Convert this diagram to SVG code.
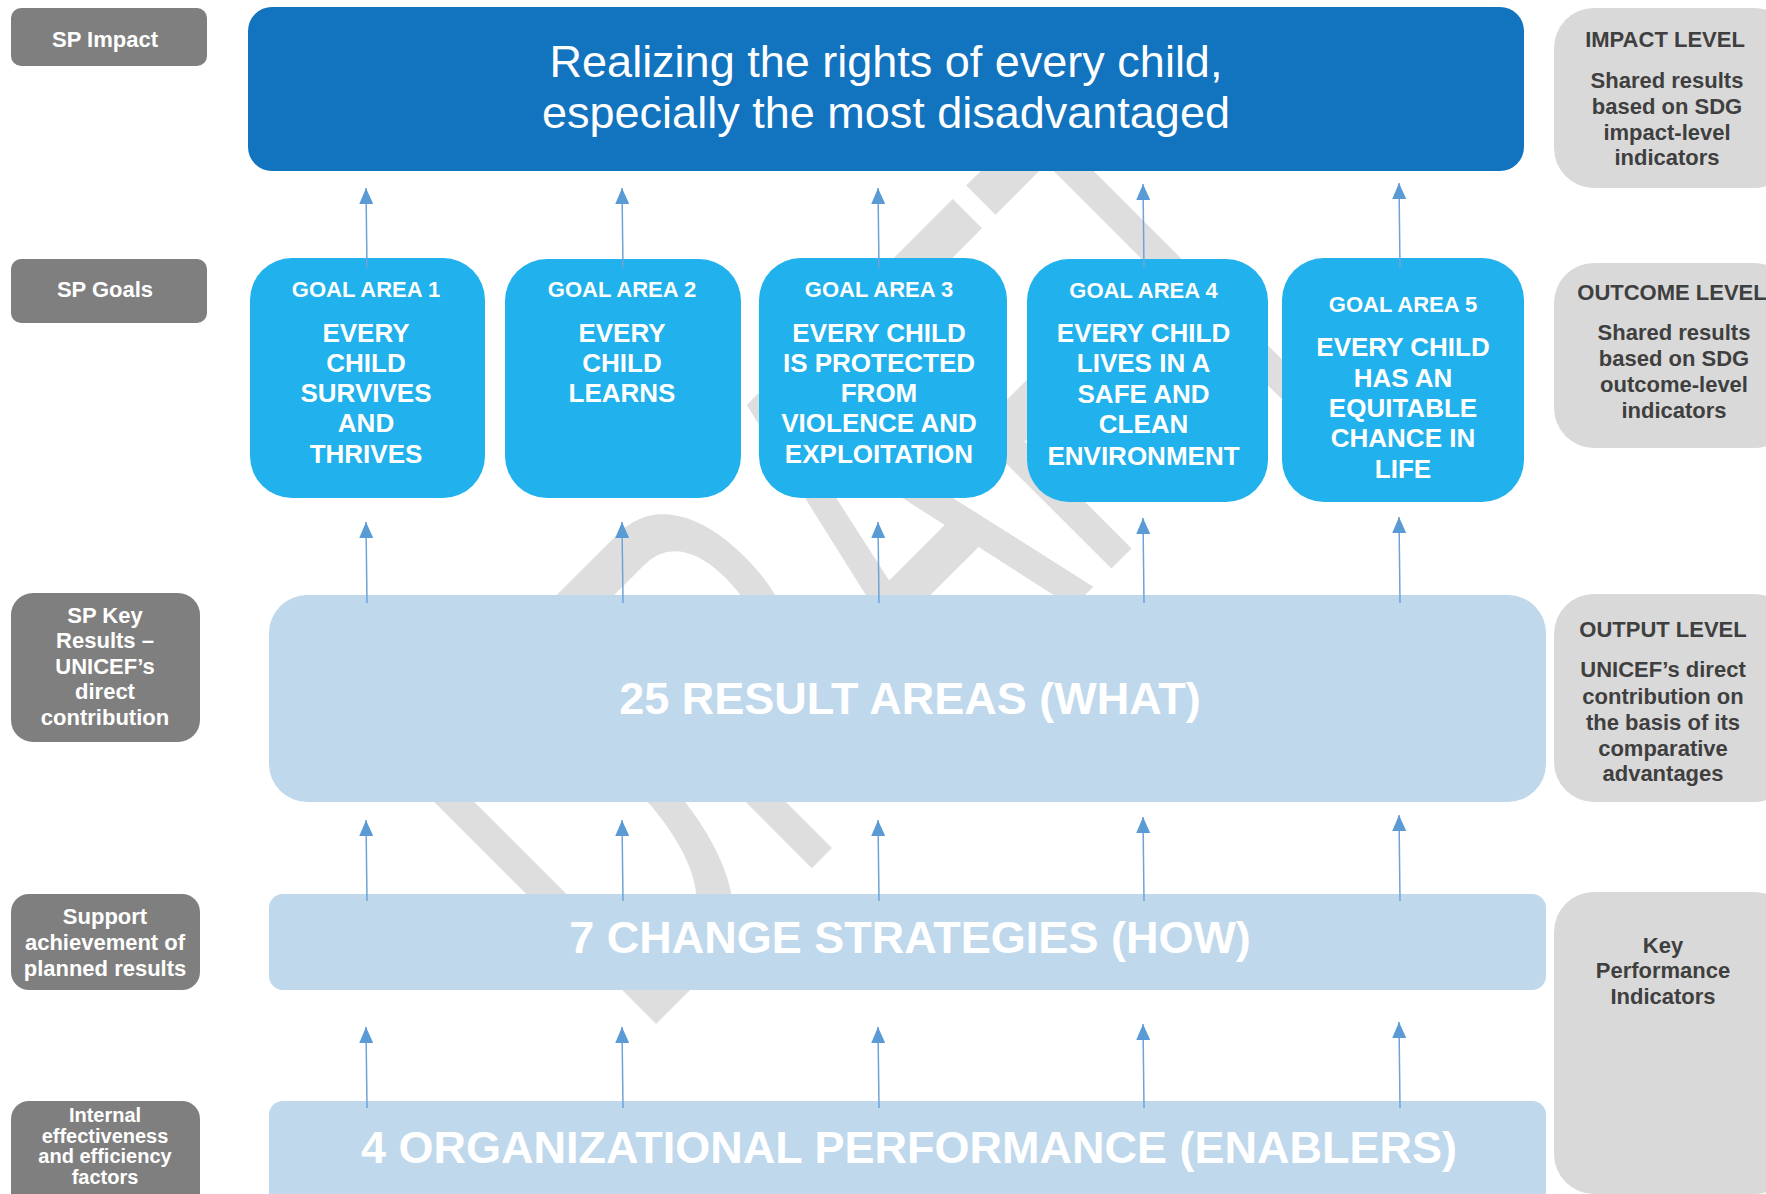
<svg xmlns="http://www.w3.org/2000/svg" width="1766" height="1194" viewBox="0 0 1766 1194">
<defs>
<style>
text{font-family:"Liberation Sans",Arial,sans-serif;}
.lbl rect{fill:#7f7f7f;}
.lbl text{fill:#ffffff;font-weight:bold;font-size:22px;text-anchor:middle;}
.lvl rect{fill:#d9d9d9;}
.lvl text{fill:#3f3f3f;font-weight:bold;font-size:22px;text-anchor:middle;}
.goal rect{fill:#21b1ec;}
.goal text{fill:#ffffff;font-weight:bold;text-anchor:middle;}
.goal .h{font-size:22px;}
.goal .b{font-size:26px;}
.row rect{fill:#c0d8ec;}
.row text{fill:#ffffff;font-weight:bold;font-size:45px;text-anchor:middle;}
.con line{stroke:#6ea3d8;stroke-width:1.5;marker-end:url(#ah);}
</style>
<marker id="ah" markerUnits="userSpaceOnUse" markerWidth="16" markerHeight="14" viewBox="0 0 16 14" refX="16" refY="7" orient="auto">
<path d="M0,0 L16,7 L0,14 z" fill="#5b9bd5"/>
</marker>
</defs>
<rect x="0" y="0" width="1766" height="1194" fill="#ffffff"/>
<text id="watermark" x="-23.5" y="0" font-size="305" fill="#dedede" transform="translate(655,1025) rotate(-45) scale(1,1.78)">DRAFT</text>

<g id="sp-impact" class="lbl"><rect x="11" y="8" width="196" height="58" rx="10"/><text x="105" y="47">SP Impact</text></g>
<g id="sp-goals" class="lbl"><rect x="11" y="259" width="196" height="64" rx="10"/><text x="105" y="297">SP Goals</text></g>
<g id="sp-key" class="lbl"><rect x="11" y="593" width="189" height="149" rx="22"/>
<text x="105" y="623">SP Key</text><text x="105" y="648">Results –</text><text x="105" y="674">UNICEF’s</text><text x="105" y="699">direct</text><text x="105" y="725">contribution</text></g>
<g id="support" class="lbl"><rect x="11" y="894" width="189" height="96" rx="18"/>
<text x="105" y="924">Support</text><text x="105" y="950">achievement of</text><text x="105" y="976">planned results</text></g>
<g id="internal" class="lbl"><rect x="11" y="1101" width="189" height="120" rx="18"/>
<text x="105" y="1122" font-size="20" style="font-size:20px">Internal</text><text x="105" y="1143" style="font-size:20px">effectiveness</text><text x="105" y="1163" style="font-size:20px">and efficiency</text><text x="105" y="1184" style="font-size:20px">factors</text></g>

<g id="impact"><rect x="248" y="7" width="1276" height="164" rx="24" fill="#1273be"/>
<text x="886" y="77" font-size="45" fill="#ffffff" text-anchor="middle">Realizing the rights of every child,</text>
<text x="886" y="128" font-size="45" fill="#ffffff" text-anchor="middle">especially the most disadvantaged</text></g>

<g id="goal1" class="goal"><rect x="250" y="258" width="235" height="240" rx="42"/>
<text class="h" x="366" y="297">GOAL AREA 1</text>
<text class="b" x="366" y="342">EVERY</text><text class="b" x="366" y="372">CHILD</text><text class="b" x="366" y="402">SURVIVES</text><text class="b" x="366" y="432">AND</text><text class="b" x="366" y="463">THRIVES</text></g>
<g id="goal2" class="goal"><rect x="505" y="259" width="236" height="239" rx="42"/>
<text class="h" x="622" y="297">GOAL AREA 2</text>
<text class="b" x="622" y="342">EVERY</text><text class="b" x="622" y="372">CHILD</text><text class="b" x="622" y="402">LEARNS</text></g>
<g id="goal3" class="goal"><rect x="759" y="258" width="248" height="240" rx="42"/>
<text class="h" x="879" y="297">GOAL AREA 3</text>
<text class="b" x="879" y="342">EVERY CHILD</text><text class="b" x="879" y="372">IS PROTECTED</text><text class="b" x="879" y="402">FROM</text><text class="b" x="879" y="432">VIOLENCE AND</text><text class="b" x="879" y="463">EXPLOITATION</text></g>
<g id="goal4" class="goal"><rect x="1027" y="259" width="241" height="243" rx="42"/>
<text class="h" x="1143.5" y="298">GOAL AREA 4</text>
<text class="b" x="1143.5" y="342">EVERY CHILD</text><text class="b" x="1143.5" y="372">LIVES IN A</text><text class="b" x="1143.5" y="403">SAFE AND</text><text class="b" x="1143.5" y="433">CLEAN</text><text class="b" x="1143.5" y="465">ENVIRONMENT</text></g>
<g id="goal5" class="goal"><rect x="1282" y="258" width="242" height="244" rx="42"/>
<text class="h" x="1403" y="312">GOAL AREA 5</text>
<text class="b" x="1403" y="356">EVERY CHILD</text><text class="b" x="1403" y="387">HAS AN</text><text class="b" x="1403" y="417">EQUITABLE</text><text class="b" x="1403" y="447">CHANCE IN</text><text class="b" x="1403" y="478">LIFE</text></g>

<g id="results" class="row"><rect x="269" y="595" width="1277" height="207" rx="38"/><text x="910" y="714">25 RESULT AREAS (WHAT)</text></g>
<g id="strategies" class="row"><rect x="269" y="894" width="1277" height="96" rx="14"/><text x="910" y="953">7 CHANGE STRATEGIES (HOW)</text></g>
<g id="enablers" class="row"><rect x="269" y="1101" width="1277" height="120" rx="14"/><text x="909" y="1163">4 ORGANIZATIONAL PERFORMANCE (ENABLERS)</text></g>

<g id="impact-level" class="lvl"><rect x="1554" y="8" width="240" height="180" rx="40"/>
<text x="1665" y="47">IMPACT LEVEL</text>
<text x="1667" y="88">Shared results</text><text x="1667" y="113.5">based on SDG</text><text x="1667" y="139.5">impact-level</text><text x="1667" y="165">indicators</text></g>
<g id="outcome-level" class="lvl"><rect x="1554" y="263" width="240" height="185" rx="40"/>
<text x="1672" y="300">OUTCOME LEVEL</text>
<text x="1674" y="340">Shared results</text><text x="1674" y="366">based on SDG</text><text x="1674" y="392">outcome-level</text><text x="1674" y="418">indicators</text></g>
<g id="output-level" class="lvl"><rect x="1554" y="594" width="240" height="208" rx="40"/>
<text x="1663" y="637">OUTPUT LEVEL</text>
<text x="1663" y="677">UNICEF’s direct</text><text x="1663" y="704">contribution on</text><text x="1663" y="730">the basis of its</text><text x="1663" y="756">comparative</text><text x="1663" y="781">advantages</text></g>
<g id="kpi" class="lvl"><rect x="1554" y="892" width="240" height="302" rx="40"/>
<text x="1663" y="953">Key</text><text x="1663" y="978">Performance</text><text x="1663" y="1004">Indicators</text></g>

<g id="connectors" class="con">
<line x1="367" y1="268" x2="366" y2="188"/>
<line x1="623" y1="268" x2="622" y2="188"/>
<line x1="879" y1="268" x2="878" y2="188"/>
<line x1="1144" y1="268" x2="1143" y2="184"/>
<line x1="1400" y1="268" x2="1399" y2="183"/>
<line x1="367" y1="603" x2="366" y2="522"/>
<line x1="623" y1="603" x2="622" y2="522"/>
<line x1="879" y1="603" x2="878" y2="522"/>
<line x1="1144" y1="603" x2="1143" y2="518"/>
<line x1="1400" y1="603" x2="1399" y2="517"/>
<line x1="367" y1="901" x2="366" y2="820"/>
<line x1="623" y1="901" x2="622" y2="820"/>
<line x1="879" y1="901" x2="878" y2="820"/>
<line x1="1144" y1="901" x2="1143" y2="817"/>
<line x1="1400" y1="901" x2="1399" y2="815"/>
<line x1="367" y1="1108" x2="366" y2="1027"/>
<line x1="623" y1="1108" x2="622" y2="1027"/>
<line x1="879" y1="1108" x2="878" y2="1027"/>
<line x1="1144" y1="1108" x2="1143" y2="1024"/>
<line x1="1400" y1="1108" x2="1399" y2="1022"/>
</g>
</svg>
